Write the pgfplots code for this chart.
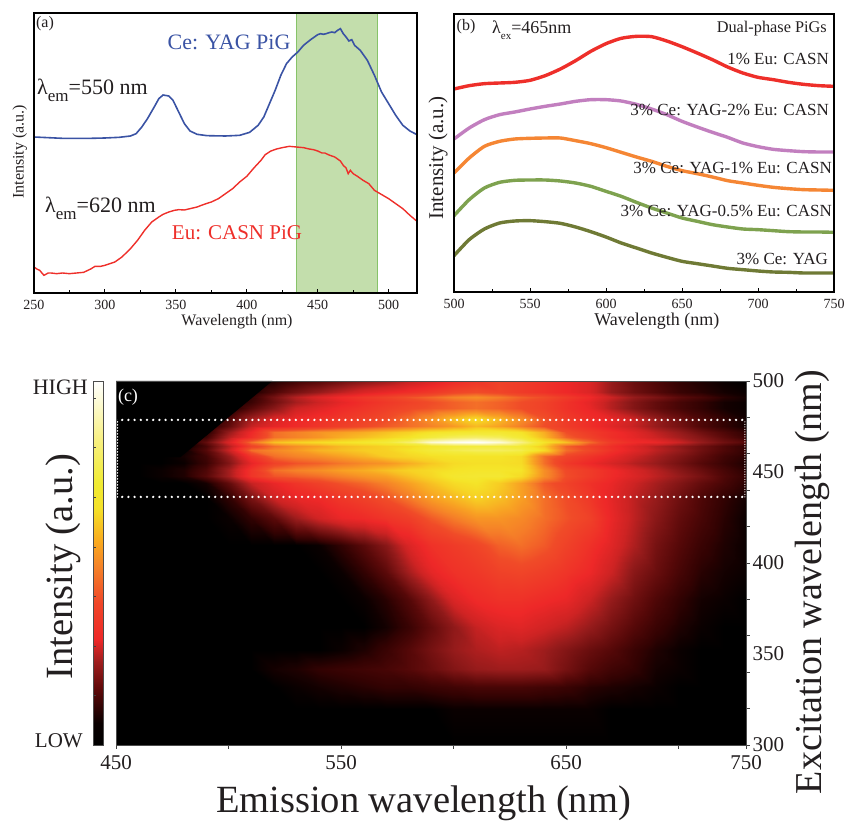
\documentclass[border=0pt]{standalone}
\usepackage{fontspec}
\setmainfont{Liberation Serif}
\usepackage{pgfplots}
\pgfplotsset{compat=1.18}
\newcommand\fs[1]{\fontsize{#1}{#1}\selectfont}
\newcommand\lsub[2]{λ\raisebox{-0.3em}{\fontsize{#1}{#1}\selectfont #2}}
\definecolor{ink}{HTML}{231F20}
\definecolor{cblue}{HTML}{3A53A4}
\definecolor{cred}{HTML}{EE2F2A}
\definecolor{cpurple}{HTML}{C27FBF}
\definecolor{corange}{HTML}{F58634}
\definecolor{cgreen}{HTML}{7EA24F}
\definecolor{colive}{HTML}{6F7A35}
\pgfplotsset{
  colormap={hotref}{
    rgb255(0cm)=(0,0,0); rgb255(6cm)=(10,0,0); rgb255(16cm)=(100,10,10);
    rgb255(23cm)=(160,30,30); rgb255(29cm)=(238,40,40); rgb255(39cm)=(240,70,40);
    rgb255(49cm)=(245,130,40); rgb255(56cm)=(250,170,30); rgb255(65cm)=(245,225,40);
    rgb255(72cm)=(240,235,50); rgb255(84cm)=(248,240,130); rgb255(94cm)=(252,250,210);
    rgb255(100cm)=(255,255,255)
  },
  colormap={hotmap}{
    rgb255(0cm)=(0,0,0); rgb255(1cm)=(10,0,0); rgb255(5cm)=(50,2,2); rgb255(10cm)=(85,8,8);
    rgb255(20cm)=(150,27,27); rgb255(27cm)=(205,35,35); rgb255(34cm)=(238,40,40);
    rgb255(45cm)=(240,75,40); rgb255(52cm)=(245,125,40); rgb255(58cm)=(248,160,35);
    rgb255(65cm)=(247,205,35); rgb255(70cm)=(245,228,40); rgb255(76cm)=(243,235,60);
    rgb255(85cm)=(248,240,130); rgb255(94cm)=(252,250,210); rgb255(100cm)=(255,255,255)
  },
  specstyle/.style={
    scale only axis, axis line style={line width=1.4pt,black},
    ytick=\empty, xtick pos=bottom, tick align=inside,
    major tick length=4pt, minor tick length=3pt, minor x tick num=1,
    tick style={line width=1pt,black}, axis on top,
    /pgf/number format/assume math mode=true,
    /pgf/number format/1000 sep={},
    ticklabel style={font=\fs{14},text=ink},
    xticklabel style={yshift=-4pt},
  },
}
\begin{document}
\begin{tikzpicture}[x=1pt,y=1pt]
\useasboundingbox (0,0) rectangle (846,822);

% (a) excitation spectra
\begin{axis}[specstyle, at={(34pt,529pt)}, anchor=south west, width=383pt, height=280pt,
  xmin=250, xmax=520, ymin=0, ymax=840, xtick={250,300,...,500},
  xlabel={Wavelength (nm)}, ylabel={Intensity (a.u.)},
  xlabel style={at={(axis description cs:0.53,-0.104)},anchor=center,font=\fs{16},text=ink},
  ylabel style={at={(axis description cs:-0.037,0.504)},anchor=center,font=\fs{16},text=ink},
]
\addplot[fill={rgb,255:red,195;green,222;blue,172}, draw={rgb,255:red,135;green,195;blue,105}, line width=1.2pt]
  coordinates {(435,2)(435,838)(492,838)(492,2)} -- cycle;
\addplot[cblue, line width=1.6pt] coordinates {
(250,468)(255,467)(260,466)(265,465)(270,464)(280,464)(290,464)(300,465)(310,467)(318,471)
(322,478)(326,498)(330,523)(335,560)(338,583)(341,594)(345,591)(348,578)(352,543)(356,508)
(360,486)(365,476)(372,472)(385,471)(395,473)(402,482)(408,503)(412,528)(416,568)(420,608)
(424,653)(428,688)(432,708)(436,723)(440,743)(445,760)(450,775)(452,778)(454,776)(456,778)
(458,781)(460,783)(462,781)(464,788)(466,793)(468,778)(470,768)(472,756)(474,760)(476,743)
(480,728)(485,698)(490,653)(495,603)(500,568)(505,533)(510,503)(515,486)(520,475)};
\addplot[cred, line width=1.4pt] coordinates {
(250,78)(252,72)(254,68)(257,53)(260,60)(262,60)(266,58)(270,60)(275,58)(280,60)(285,62)
(290,72)(293,80)(297,80)(300,83)(307,93)(312,108)(318,133)(323,158)(328,188)(333,213)
(338,228)(341,236)(345,243)(349,248)(352,250)(356,249)(360,253)(365,258)(368,263)(372,269)
(375,273)(380,283)(385,298)(390,313)(395,333)(400,350)(405,375)(410,398)(413,415)(417,426)
(421,432)(425,436)(430,440)(435,438)(440,436)(444,432)(447,430)(450,426)(453,420)(455,420)
(458,414)(462,408)(466,396)(468,383)(470,375)(471.5,358)(473,368)(475,358)(478,350)(482,338)
(486,328)(490,308)(492,303)(496,293)(500,283)(505,268)(510,253)(515,233)(520,215)};
\end{axis}

% (b) emission spectra
\begin{axis}[specstyle, at={(454pt,530pt)}, anchor=south west, width=380pt, height=278pt,
  xmin=500, xmax=750, ymin=0, ymax=834, xtick={500,550,...,750},
  xlabel={Wavelength (nm)}, ylabel={Intensity (a.u.)},
  xlabel style={at={(axis description cs:0.534,-0.104)},anchor=center,font=\fs{18},text=ink},
  ylabel style={at={(axis description cs:-0.042,0.482)},anchor=center,font=\fs{21},text=ink},
  every axis plot/.append style={line width=3.4pt,smooth,tension=0.4},
]
\addplot[colive] coordinates {
(500,109)(510,157)(520,189)(530,207)(540,213)(550,214)(560,211)(570,206)(580,195)(590,181)
(600,165)(610,147)(620,132)(630,117)(640,104)(650,92)(660,85)(670,78)(680,71)(690,67)
(700,63)(710,60)(720,59)(730,57)(740,57)(750,57)};
\addplot[cgreen] coordinates {
(500,229)(510,277)(520,312)(530,329)(540,335)(550,336)(560,336)(570,333)(580,327)(590,317)
(600,302)(610,287)(620,269)(630,252)(640,237)(650,222)(660,212)(670,202)(680,195)(690,189)
(700,187)(710,184)(720,181)(730,180)(740,180)(750,179)};
\addplot[corange] coordinates {
(500,357)(510,402)(520,437)(530,452)(540,459)(550,461)(560,462)(570,462)(580,454)(590,445)
(600,433)(610,419)(620,405)(630,392)(640,377)(650,364)(660,355)(670,345)(680,334)(690,327)
(700,320)(710,314)(720,310)(730,307)(740,306)(750,305)};
\addplot[cpurple] coordinates {
(500,459)(510,492)(520,517)(530,532)(540,540)(550,549)(560,557)(570,564)(580,572)(590,577)
(600,577)(610,573)(620,563)(630,549)(640,532)(650,512)(660,495)(670,479)(680,464)(690,447)
(700,436)(710,428)(720,424)(730,421)(740,420)(750,420)};
\addplot[cred] coordinates {
(500,609)(510,619)(520,625)(530,627)(540,629)(550,635)(560,649)(570,669)(580,694)(590,722)
(600,745)(610,761)(620,767)(630,766)(640,753)(650,736)(660,717)(670,697)(680,675)(690,657)
(700,644)(710,637)(720,629)(730,623)(740,619)(750,617)};
\end{axis}

% (c) excitation-emission map
\begin{axis}[scale only axis, at={(116pt,77pt)}, anchor=south west, width=630pt, height=364pt,
  xmin=450, xmax=730, ymin=300, ymax=500,
  colormap name=hotmap, point meta min=0, point meta max=1,
  axis on top, axis line style={line width=0.7pt,black!70},
  tick align=outside, major tick length=3.5pt, tick style={line width=0.7pt,black!75},
  xtick pos=bottom, ytick pos=right, yticklabel pos=right,
  xtick={450,500,550,600,650,700,730}, xticklabels={450,,550,,650,,750},
  ytick={300,320,...,500}, yticklabels={},
  extra y ticks={300,350,400,450,500},
  extra y tick labels={300,350,400,450,\raisebox{-6pt}{500}},
  extra y tick style={major tick length=0pt},
  ticklabel style={font=\fs{21},text=ink},
  xticklabel style={yshift=-3pt}, yticklabel style={xshift=3pt},
  xlabel={Emission wavelength (nm)}, ylabel={Excitation wavelength (nm)},
  xlabel style={at={(axis description cs:0.488,-0.159)},anchor=center,font=\fs{38.5},text=ink},
  ylabel style={at={(axis description cs:1.106,0.448)},anchor=center,rotate=0,font=\fs{38},text=ink},
  colorbar,
  colorbar style={
    colormap name=hotref,
    at={(-0.0206,0)}, anchor=south east, width=10pt, height=364pt,
    axis line style={line width=0.7pt,black!70},
    ytick={0.137,0.272,0.409,0.544,0.681,0.819,0.953}, yticklabels={},
    ytick pos=left, tick align=inside, major tick length=2.5pt,
    ylabel={Intensity (a.u.)},
    ylabel style={at={(axis description cs:-2.95,0.49)},anchor=center,font=\fs{38.5},text=ink},
  },
]
% rows: excitation wavelength, intensity at emission 450,460,...,730
\addplot[surf, shader=interp, mesh/cols=29, point meta=explicit]
 table[row sep=crcr, header=false, y index=0, meta index=1,
   x expr={450+10*mod(\coordindex,29)}]{
300 0\\300 0\\300 0\\300 0\\300 0\\300 0\\300 0\\300 0\\300 0\\300 0\\300 0\\300 0\\300 0\\300 0\\300 0\\300 0\\300 0\\300 0\\300 0\\300 0\\300 0\\300 0\\300 0\\300 0\\300 0\\300 0\\300 0\\300 0\\300 0\\
320 0\\320 0\\320 0\\320 0\\320 0\\320 0\\320 0\\320 0\\320 0\\320 0\\320 0\\320 0\\320 0\\320 0\\320 0\\320 .01\\320 .01\\320 .01\\320 .01\\320 .01\\320 .01\\320 .01\\320 0\\320 0\\320 0\\320 0\\320 0\\320 0\\320 0\\
332 0\\332 0\\332 0\\332 0\\332 0\\332 0\\332 0\\332 0\\332 .01\\332 .02\\332 .03\\332 .04\\332 .05\\332 .05\\332 .06\\332 .07\\332 .08\\332 .08\\332 .08\\332 .07\\332 .06\\332 .04\\332 .03\\332 .02\\332 .01\\332 0\\332 0\\332 0\\332 0\\
342 0\\342 0\\342 0\\342 0\\342 0\\342 0\\342 0\\342 .02\\342 .03\\342 .05\\342 .06\\342 .07\\342 .08\\342 .1\\342 .13\\342 .17\\342 .2\\342 .21\\342 .21\\342 .2\\342 .15\\342 .1\\342 .07\\342 .05\\342 .02\\342 .01\\342 0\\342 0\\342 0\\
352 0\\352 0\\352 0\\352 0\\352 0\\352 0\\352 0\\352 0\\352 0\\352 0\\352 .01\\352 .03\\352 .06\\352 .1\\352 .15\\352 .2\\352 .23\\352 .25\\352 .24\\352 .21\\352 .17\\352 .13\\352 .1\\352 .06\\352 .03\\352 .01\\352 0\\352 0\\352 0\\
365 0\\365 0\\365 0\\365 0\\365 0\\365 0\\365 0\\365 0\\365 0\\365 0\\365 0\\365 0\\365 .02\\365 .06\\365 .12\\365 .19\\365 .26\\365 .3\\365 .31\\365 .28\\365 .25\\365 .2\\365 .15\\365 .1\\365 .06\\365 .03\\365 .01\\365 0\\365 0\\
380 0\\380 0\\380 0\\380 0\\380 0\\380 0\\380 0\\380 0\\380 0\\380 0\\380 0\\380 .01\\380 .04\\380 .1\\380 .19\\380 .3\\380 .35\\380 .37\\380 .37\\380 .35\\380 .33\\380 .27\\380 .2\\380 .14\\380 .09\\380 .05\\380 .02\\380 .01\\380 0\\
395 0\\395 0\\395 0\\395 0\\395 0\\395 0\\395 0\\395 0\\395 0\\395 0\\395 .01\\395 .05\\395 .11\\395 .22\\395 .32\\395 .37\\395 .39\\395 .42\\395 .43\\395 .41\\395 .38\\395 .34\\395 .27\\395 .18\\395 .13\\395 .08\\395 .04\\395 .02\\395 .01\\
410 0\\410 0\\410 0\\410 0\\410 0\\410 0\\410 0\\410 0\\410 0\\410 .01\\410 .05\\410 .11\\410 .18\\410 .3\\410 .37\\410 .4\\410 .43\\410 .48\\410 .5\\410 .47\\410 .42\\410 .37\\410 .31\\410 .23\\410 .15\\410 .1\\410 .06\\410 .03\\410 .01\\
425 0\\425 0\\425 0\\425 0\\425 0\\425 .01\\425 .05\\425 .11\\425 .21\\425 .28\\425 .33\\425 .35\\425 .38\\425 .41\\425 .47\\425 .52\\425 .56\\425 .56\\425 .54\\425 .5\\425 .46\\425 .42\\425 .33\\425 .25\\425 .18\\425 .12\\425 .08\\425 .04\\425 .01\\
436 0\\436 0\\436 0\\436 0\\436 0\\436 .05\\436 .16\\436 .28\\436 .33\\436 .35\\436 .39\\436 .42\\436 .46\\436 .52\\436 .58\\436 .62\\436 .66\\436 .63\\436 .58\\436 .5\\436 .45\\436 .39\\436 .32\\436 .25\\436 .2\\436 .14\\436 .09\\436 .05\\436 .02\\
444 0\\444 0\\444 0\\444 0\\444 .02\\444 .12\\444 .26\\444 .33\\444 .38\\444 .42\\444 .46\\444 .49\\444 .53\\444 .58\\444 .63\\444 .68\\444 .7\\444 .65\\444 .58\\444 .47\\444 .42\\444 .37\\444 .33\\444 .27\\444 .22\\444 .17\\444 .12\\444 .08\\444 .04\\
448 0\\448 0\\448 .01\\448 .03\\448 .1\\448 .22\\448 .38\\448 .46\\448 .48\\448 .5\\448 .53\\448 .56\\448 .58\\448 .63\\448 .67\\448 .72\\448 .73\\448 .73\\448 .68\\448 .55\\448 .45\\448 .4\\448 .35\\448 .3\\448 .25\\448 .2\\448 .15\\448 .09\\448 .05\\
451 0\\451 0\\451 .01\\451 .03\\451 .09\\451 .22\\451 .38\\451 .5\\451 .53\\451 .55\\451 .58\\451 .6\\451 .63\\451 .66\\451 .68\\451 .7\\451 .71\\451 .71\\451 .7\\451 .55\\451 .44\\451 .4\\451 .35\\451 .29\\451 .24\\451 .18\\451 .13\\451 .08\\451 .04\\
455 0\\455 0\\455 0\\455 .01\\455 .06\\455 .17\\455 .32\\455 .42\\455 .46\\455 .48\\455 .51\\455 .54\\455 .56\\455 .6\\455 .64\\455 .68\\455 .69\\455 .69\\455 .68\\455 .5\\455 .39\\455 .34\\455 .29\\455 .24\\455 .2\\455 .15\\455 .1\\455 .06\\455 .03\\
459 0\\459 0\\459 0\\459 .02\\459 .07\\459 .2\\459 .38\\459 .5\\459 .53\\459 .55\\459 .58\\459 .61\\459 .65\\459 .67\\459 .69\\459 .7\\459 .7\\459 .7\\459 .68\\459 .5\\459 .43\\459 .38\\459 .33\\459 .27\\459 .22\\459 .17\\459 .12\\459 .07\\459 .04\\
462 0\\462 0\\462 0\\462 .01\\462 .1\\462 .27\\462 .5\\462 .54\\462 .57\\462 .61\\462 .63\\462 .65\\462 .66\\462 .7\\462 .75\\462 .78\\462 .8\\462 .8\\462 .78\\462 .68\\462 .5\\462 .44\\462 .37\\462 .31\\462 .25\\462 .2\\462 .14\\462 .09\\462 .05\\
464.5 0\\464.5 0\\464.5 0\\464.5 0\\464.5 .08\\464.5 .24\\464.5 .42\\464.5 .5\\464.5 .55\\464.5 .58\\464.5 .62\\464.5 .64\\464.5 .66\\464.5 .68\\464.5 .72\\464.5 .75\\464.5 .76\\464.5 .76\\464.5 .74\\464.5 .64\\464.5 .48\\464.5 .42\\464.5 .36\\464.5 .3\\464.5 .24\\464.5 .19\\464.5 .14\\464.5 .09\\464.5 .05\\
466.5 0\\466.5 0\\466.5 0\\466.5 0\\466.5 .12\\466.5 .3\\466.5 .5\\466.5 .63\\466.5 .66\\466.5 .68\\466.5 .7\\466.5 .72\\466.5 .75\\466.5 .82\\466.5 .94\\466.5 .98\\466.5 1\\466.5 .95\\466.5 .85\\466.5 .7\\466.5 .63\\466.5 .5\\466.5 .4\\466.5 .35\\466.5 .33\\466.5 .27\\466.5 .2\\466.5 .14\\466.5 .1\\
469 0\\469 0\\469 0\\469 0\\469 .06\\469 .24\\469 .36\\469 .5\\469 .53\\469 .56\\469 .6\\469 .63\\469 .66\\469 .7\\469 .76\\469 .8\\469 .82\\469 .8\\469 .74\\469 .62\\469 .48\\469 .42\\469 .36\\469 .32\\469 .27\\469 .22\\469 .17\\469 .11\\469 .06\\
472 0\\472 0\\472 0\\472 0\\472 .03\\472 .2\\472 .34\\472 .5\\472 .53\\472 .56\\472 .58\\472 .6\\472 .63\\472 .66\\472 .7\\472 .72\\472 .73\\472 .73\\472 .7\\472 .6\\472 .45\\472 .4\\472 .36\\472 .31\\472 .25\\472 .2\\472 .14\\472 .09\\472 .05\\
475 0\\475 0\\475 0\\475 0\\475 .01\\475 .12\\475 .26\\475 .32\\475 .35\\475 .38\\475 .41\\475 .44\\475 .47\\475 .5\\475 .53\\475 .57\\475 .62\\475 .58\\475 .52\\475 .45\\475 .4\\475 .36\\475 .31\\475 .26\\475 .2\\475 .15\\475 .09\\475 .05\\475 .02\\
479 0\\479 0\\479 0\\479 0\\479 0\\479 .09\\479 .22\\479 .3\\479 .34\\479 .37\\479 .39\\479 .42\\479 .45\\479 .5\\479 .56\\479 .63\\479 .68\\479 .62\\479 .55\\479 .46\\479 .4\\479 .36\\479 .33\\479 .27\\479 .2\\479 .14\\479 .09\\479 .05\\479 .02\\
485 0\\485 0\\485 0\\485 0\\485 0\\485 .01\\485 .1\\485 .18\\485 .27\\485 .31\\485 .35\\485 .38\\485 .41\\485 .44\\485 .46\\485 .48\\485 .5\\485 .48\\485 .45\\485 .42\\485 .37\\485 .33\\485 .24\\485 .17\\485 .12\\485 .08\\485 .05\\485 .02\\485 .01\\
488.5 0\\488.5 0\\488.5 0\\488.5 0\\488.5 0\\488.5 0\\488.5 .06\\488.5 .14\\488.5 .22\\488.5 .27\\488.5 .32\\488.5 .36\\488.5 .39\\488.5 .42\\488.5 .45\\488.5 .48\\488.5 .5\\488.5 .48\\488.5 .45\\488.5 .42\\488.5 .37\\488.5 .32\\488.5 .24\\488.5 .17\\488.5 .12\\488.5 .08\\488.5 .05\\488.5 .02\\488.5 .01\\
491 0\\491 0\\491 0\\491 0\\491 0\\491 0\\491 .05\\491 .15\\491 .24\\491 .3\\491 .35\\491 .39\\491 .42\\491 .46\\491 .49\\491 .53\\491 .55\\491 .52\\491 .48\\491 .45\\491 .4\\491 .35\\491 .27\\491 .2\\491 .16\\491 .11\\491 .08\\491 .04\\491 .02\\
494 0\\494 0\\494 0\\494 0\\494 0\\494 0\\494 .02\\494 .09\\494 .15\\494 .2\\494 .25\\494 .3\\494 .33\\494 .36\\494 .39\\494 .43\\494 .45\\494 .43\\494 .4\\494 .37\\494 .34\\494 .3\\494 .2\\494 .14\\494 .1\\494 .06\\494 .04\\494 .02\\494 .01\\
500 0\\500 0\\500 0\\500 0\\500 0\\500 0\\500 0\\500 .03\\500 .07\\500 .1\\500 .14\\500 .18\\500 .21\\500 .26\\500 .3\\500 .35\\500 .38\\500 .42\\500 .4\\500 .37\\500 .34\\500 .3\\500 .2\\500 .13\\500 .09\\500 .05\\500 .03\\500 .01\\500 0\\
};
% sharp black corner at the top left
\addplot[fill=black, draw=none] coordinates {(450,500)(519.5,500)(478.5,458)(450,458)} -- cycle;
% dotted band
\addplot[white, line width=2.6pt, line cap=round, dash pattern=on 0pt off 6.2pt] coordinates {(450,478.6)(730,478.6)};
\addplot[white, line width=2.6pt, line cap=round, dash pattern=on 0pt off 6.2pt] coordinates {(450,436.3)(730,436.3)};
\addplot[white, line width=1.8pt, line cap=round, dash pattern=on 0pt off 3pt] coordinates {(450.6,436.3)(450.6,478.6)};
\addplot[white, line width=1.3pt, line cap=round, dash pattern=on 0pt off 2.5pt] coordinates {(729.5,436.3)(729.5,478.6)};
\end{axis}

% annotations, positions in picture units
\begin{scope}[every node/.style={inner sep=0pt}]
\node[anchor=center,text=ink,font=\fs{16}] at (45,798) {(a)};
\node[anchor=center,text=cblue,font=\fs{22}] at (229,780) {Ce: YAG PiG};
\node[anchor=base west,text=ink,font=\fs{22}] at (37,727) {\lsub{17}{em}=550 nm};
\node[anchor=base west,text=ink,font=\fs{22}] at (45,609) {\lsub{17}{em}=620 nm};
\node[anchor=center,text=cred,font=\fs{21}] at (237,589) {Eu: CASN PiG};
\node[anchor=center,text=ink,font=\fs{16}] at (466,795) {(b)};
\node[anchor=base west,text=ink,font=\fs{18}] at (492,788) {\lsub{11}{ex}=465nm};
\node[anchor=east,text=ink,font=\fs{16.3}] at (827,793) {Dual-phase PiGs};
\node[anchor=east,text=ink,font=\fs{17}] at (829,763) {1\% Eu: CASN};
\node[anchor=east,text=ink,font=\fs{17}] at (829,712) {3\% Ce: YAG-2\% Eu: CASN};
\node[anchor=east,text=ink,font=\fs{17}] at (832,654) {3\% Ce: YAG-1\% Eu: CASN};
\node[anchor=east,text=ink,font=\fs{17}] at (832,611) {3\% Ce: YAG-0.5\% Eu: CASN};
\node[anchor=east,text=ink,font=\fs{17}] at (828,563) {3\% Ce: YAG};
\node[anchor=center,text=white,font=\fs{18}] at (128,425) {(c)};
\node[anchor=east,text=ink,font=\fs{22}] at (88,435) {HIGH};
\node[anchor=east,text=ink,font=\fs{21}] at (83,81) {LOW};
\end{scope}
\end{tikzpicture}
\end{document}
